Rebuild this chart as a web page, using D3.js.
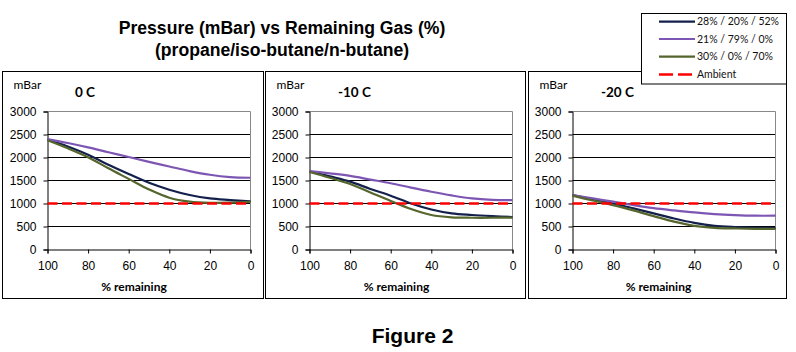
<!DOCTYPE html>
<html><head><meta charset="utf-8">
<script src="https://cdn.jsdelivr.net/npm/d3@7/dist/d3.min.js"></script>
<style>
html,body{margin:0;padding:0;background:#fff;}
svg{display:block;}
</style></head>
<body>
<script>
// ---- data ----
const pctRemaining = [100, 90, 80, 70, 60, 50, 40, 30, 20, 10, 0];
const panelTitles = ["0 C", "-10 C", "-20 C"];
const seriesNames = ["28% / 20% / 52%", "21% / 79% / 0%", "30% / 0% / 70%", "Ambient"];
const yTicks = [0, 500, 1000, 1500, 2000, 2500, 3000];
const xTicks = [100, 80, 60, 40, 20, 0];
const ambient = [1000, 1000, 1000, 1000, 1000, 1000, 1000, 1000, 1000, 1000, 1000];

// 0 C
const mixA_0  = [2390, 2240, 2060, 1840, 1640, 1450, 1300, 1185, 1110, 1075, 1045];
const mixB_0  = [2400, 2315, 2220, 2115, 2010, 1905, 1805, 1705, 1625, 1575, 1560];
const mixC_0  = [2375, 2200, 2005, 1765, 1535, 1305, 1125, 1040, 1015, 1020, 1035];
// -10 C
const mixA_10 = [1700, 1590, 1475, 1315, 1170, 1000, 870, 785, 750, 725, 705];
const mixB_10 = [1705, 1655, 1600, 1520, 1440, 1345, 1255, 1175, 1110, 1080, 1075];
const mixC_10 = [1685, 1560, 1425, 1240, 1055, 880, 750, 700, 690, 690, 695];
// -20 C
const mixA_20 = [1185, 1090, 1000, 895, 785, 675, 580, 515, 487, 472, 465];
const mixB_20 = [1185, 1110, 1040, 965, 900, 850, 805, 770, 748, 735, 735];
const mixC_20 = [1170, 1065, 965, 850, 725, 605, 515, 472, 458, 450, 450];

const panelData = [
  [mixA_0, mixB_0, mixC_0, ambient],
  [mixA_10, mixB_10, mixC_10, ambient],
  [mixA_20, mixB_20, mixC_20, ambient]
];

// ---- styles / layout ----
const colors = ["#13204c", "#7d55b2", "#55652c", "#ff0000"];
const W = 796, H = 352;
const panelBoxes = [[2.5, 263.5], [265.5, 525.5], [528.5, 786.5]];
const plotLefts = [47.5, 309.5, 572.5];
const plotW = 203, plotTop = 111.5, plotBottom = 249.5;
const boxTop = 71.5, boxBottom = 298.5;

const svg = d3.select("body").append("svg").attr("width", W).attr("height", H);
svg.append("rect").attr("width", W).attr("height", H).attr("fill", "#fff");

// main title
const title = svg.append("text").attr("x", 282).attr("text-anchor", "middle")
  .attr("font-family", "Liberation Sans, Arial, sans-serif").attr("font-weight", "bold")
  .attr("font-size", "17.6px").attr("fill", "#000");
title.append("tspan").attr("x", 282).attr("y", 34).text("Pressure (mBar) vs Remaining Gas (%)");
title.append("tspan").attr("x", 282).attr("y", 56).text("(propane/iso-butane/n-butane)");

// figure caption
svg.append("text").attr("x", 412.5).attr("y", 342.5).attr("text-anchor", "middle")
  .attr("font-family", "Liberation Sans, Arial, sans-serif").attr("font-weight", "bold")
  .attr("font-size", "21px").attr("fill", "#000").text("Figure 2");

panelData.forEach((series, i) => {
  const [bx0, bx1] = panelBoxes[i];
  const g = svg.append("g");
  g.append("rect").attr("x", bx0).attr("y", boxTop).attr("width", bx1 - bx0)
    .attr("height", boxBottom - boxTop).attr("fill", "#fff").attr("stroke", "#000").attr("stroke-width", 1);

  const x = d3.scaleLinear().domain([100, 0]).range([plotLefts[i], plotLefts[i] + plotW]);
  const y = d3.scaleLinear().domain([0, 3000]).range([plotBottom, plotTop]);

  // gridlines
  g.append("g").selectAll("line").data(yTicks.filter(t => t > 0 && t < 3000)).join("line")
    .attr("x1", x(100)).attr("x2", x(0)).attr("y1", d => y(d)).attr("y2", d => y(d))
    .attr("stroke", "#000").attr("stroke-width", 1);
  // plot border (top/right gray)
  g.append("path").attr("d", `M${x(100)},${y(3000)}H${x(0)}V${y(0)}`)
    .attr("fill", "none").attr("stroke", "#888").attr("stroke-width", 1);

  // axes
  const yAxis = g.append("g").attr("transform", `translate(${x(100)},0)`)
    .call(d3.axisLeft(y).tickValues(yTicks).tickSize(4).tickPadding(7).tickFormat(d3.format("d")));
  const xAxis = g.append("g").attr("transform", `translate(0,${y(0)})`)
    .call(d3.axisBottom(x).tickValues(xTicks).tickSize(4).tickPadding(8).tickFormat(d3.format("d")));
  [yAxis, xAxis].forEach(a => {
    a.select(".domain").attr("stroke", "#000");
    a.selectAll(".tick line").attr("stroke", "#000");
    a.selectAll("text").attr("font-family", "Liberation Sans, Arial, sans-serif")
      .attr("font-size", "12px").attr("fill", "#000");
  });

  // series lines
  const smooth = d3.line().x((d, k) => x(pctRemaining[k])).y(d => y(d)).curve(d3.curveCatmullRom.alpha(0.5));
  const straight = d3.line().x((d, k) => x(pctRemaining[k])).y(d => y(d));
  series.forEach((vals, s) => {
    const p = g.append("path").datum(vals).attr("fill", "none")
      .attr("stroke", colors[s]).attr("stroke-width", s === 3 ? 2.5 : 2.2)
      .attr("stroke-linejoin", "round");
    if (s === 3) p.attr("stroke-dasharray", "10,4.5").attr("d", straight);
    else p.attr("d", smooth);
  });

  // labels
  g.append("text").attr("x", bx0 + 11).attr("y", 89).attr("font-family", "Lato, sans-serif")
    .attr("font-size", "12px").attr("fill", "#000").text("mBar");
  g.append("text").attr("x", bx0 + 72.5).attr("y", 97).attr("font-family", "Lato, sans-serif")
    .attr("font-weight", "bold").attr("font-size", "13.5px").attr("fill", "#000").text(panelTitles[i]);
  g.append("text").attr("x", (bx0 + bx1) / 2 + 1).attr("y", 291).attr("text-anchor", "middle")
    .attr("font-family", "Lato, sans-serif").attr("font-weight", "bold")
    .attr("font-size", "12px").attr("fill", "#000").text("% remaining");
});

// legend
const lg = svg.append("g");
lg.append("rect").attr("x", 641.5).attr("y", 13.5).attr("width", 145).attr("height", 70.5)
  .attr("fill", "#fff").attr("stroke", "#000").attr("stroke-width", 1);
const rowY = [21.7, 39, 56.7, 74.5];
seriesNames.forEach((name, s) => {
  const ln = lg.append("line").attr("x1", 659).attr("x2", 695).attr("y1", rowY[s]).attr("y2", rowY[s])
    .attr("stroke", colors[s]).attr("stroke-width", s === 3 ? 2.5 : 2.2);
  if (s === 3) ln.attr("stroke-dasharray", "14,5");
  lg.append("text").attr("x", 697).attr("y", rowY[s]).attr("dy", "0.35em")
    .attr("font-family", "Lato, sans-serif").attr("font-size", "10.5px").attr("fill", "#111").text(name);
});
</script>
</body></html>
